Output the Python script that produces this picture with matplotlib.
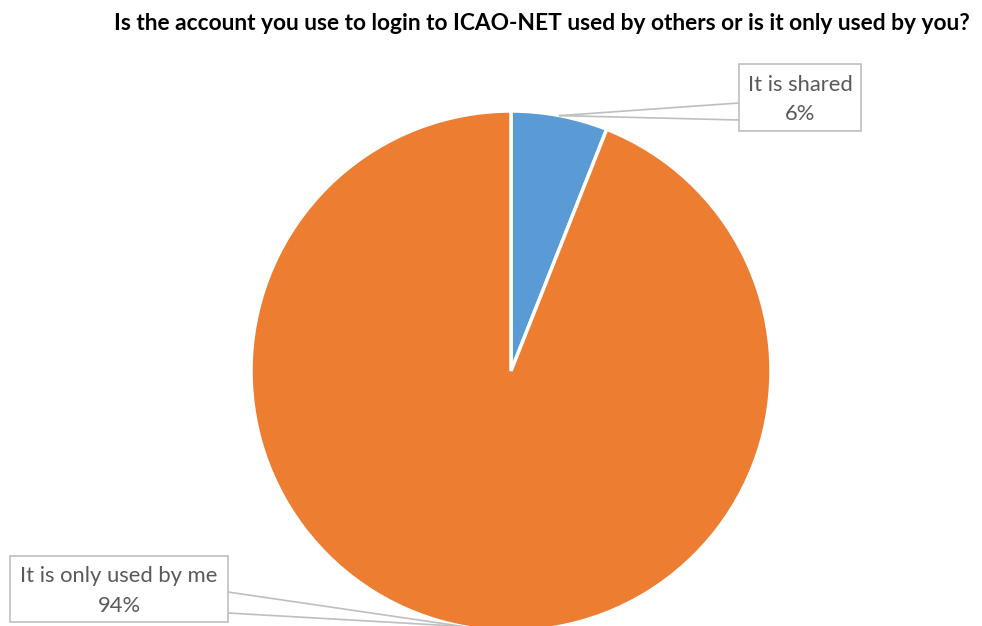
import numpy as np
import matplotlib.pyplot as plt
from matplotlib.patches import Rectangle

plt.rcParams['font.family'] = ['Lato', 'DejaVu Sans']

categorias = ["It is shared", "It is only used by me"]
porcentajes = [6, 94]
colores = ["#5B9BD5", "#ED7D31"]
titulo = "Is the account you use to login to ICAO-NET used by others or is it only used by you?"

W, H = 982, 626
fig = plt.figure(figsize=(W/100, H/100), dpi=100)
ax = fig.add_axes([0, 0, 1, 1])

cx, cy, r = 511, H - 371, 260
ax.pie(porcentajes, colors=colores, startangle=90, counterclock=False,
       center=(cx, cy), radius=r, frame=True,
       wedgeprops=dict(edgecolor="white", linewidth=2.5))
ax.set_xlim(0, W)
ax.set_ylim(0, H)
ax.set_aspect("equal")
ax.axis("off")

fig.text(542/W, 1 - 24/H, titulo, ha="center", va="center",
         fontsize=16.4, fontweight="bold", color="black")

# cajas de etiqueta: (x0, y0, x1, y1) en pixeles desde arriba, y puntos de anclaje de la flecha
cajas = [(739, 64, 861, 131, (103, 120)), (10, 556, 228, 622, (592, 613))]
acum = 0
for cat, p, (x0, y0, x1, y1, (ya, yb)) in zip(categorias, porcentajes, cajas):
    medio = (acum + p/2) / 100 * 2*np.pi
    acum += p
    tx = cx + r*np.sin(medio)
    ty = cy + r*np.cos(medio)
    lado = x0 if tx < x0 else x1
    for yy in (ya, yb):
        ax.plot([lado, tx], [H - yy, ty], color="#BFBFBF", lw=1.2, zorder=3)
    ax.add_patch(Rectangle((x0, H - y1), x1 - x0, y1 - y0, facecolor="white",
                           edgecolor="#BFBFBF", lw=1.2, zorder=4))
    ax.text((x0 + x1)/2, H - (y0 + y1)/2 - 2, "%s\n%d%%" % (cat, p), ha="center",
            va="center", fontsize=15.8, color="#595959", linespacing=1.62, zorder=5)

fig.savefig("out.png", dpi=100)
